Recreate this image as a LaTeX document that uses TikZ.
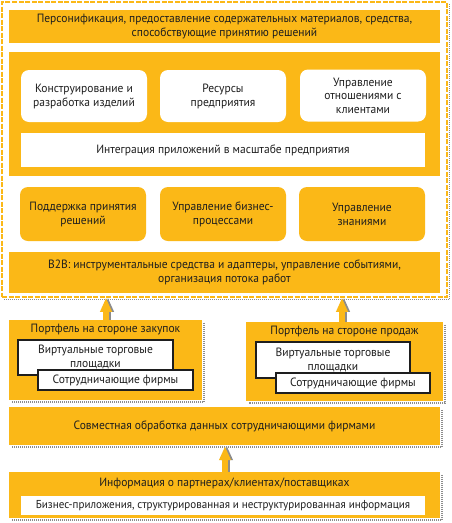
\documentclass[tikz,border=0pt]{standalone}
\usepackage{fontspec}
\setmainfont{PT Sans}[FakeStretch=0.96]
\usetikzlibrary{arrows.meta}
\definecolor{gold}{HTML}{FBB817}
\definecolor{ink}{HTML}{1E1E1E}
\definecolor{sgray}{HTML}{8C8C8C}
\newcommand\shd[1]{\draw[sgray, line width=1.3, dash pattern=on 1pt off 1pt] ([xshift=1.8pt,yshift=-3pt]#1.north east) -- ([xshift=1.8pt,yshift=-1.8pt]#1.south east) -- ([xshift=3pt,yshift=-1.8pt]#1.south west);}
\begin{document}
\begin{tikzpicture}[x=1pt,y=-1pt, font=\fontsize{12}{14}\selectfont, text=ink,
 band/.style={fill=gold, draw=none, minimum width=431, inner sep=0, align=center},
 wbox/.style={fill=white, draw=none, rounded corners=8, minimum width=126, minimum height=52, inner sep=0, align=center},
 ybox/.style={fill=gold, draw=none, rounded corners=8, minimum width=126, minimum height=54, inner sep=0, align=center},
 plain/.style={fill=white, draw=none, inner sep=0, align=center},
 framed/.style={fill=white, draw=ink, line width=1.1, inner sep=0, align=center},
 lbl/.style={inner sep=0, align=center},
 bigarrow/.style={line width=5.5, -{Triangle[width=11,length=14]}},
]
\useasboundingbox[fill=white] (0,0) rectangle (451,523);

% outer dashed frame
\node[draw=gold, line width=1.6, dash pattern=on 5pt off 1.5pt, minimum width=445, minimum height=295, inner sep=0] (frame) at (224.5,149.5) {};
\shd{frame}

% top band
\node[band, minimum height=33] (pers) at (224.5,26.5) {Персонификация, предоставление содержательных материалов, средства,\\способствующие принятию решений};

% middle yellow area
\node[band, minimum height=124] (mid) at (224.5,114) {};
\node[wbox] (konstr) at (84,96) {Конструирование и\\разработка изделий};
\node[wbox] (res) at (223,96) {Ресурсы\\предприятия};
\node[wbox, font=\fontsize{12}{13.5}\selectfont] (crm) at (363,95.5) {Управление\\отношениями с\\клиентами};
\node[plain, minimum width=404, minimum height=34] (integ) at (223,150) {Интеграция приложений в масштабе предприятия};

% yellow rounded boxes
\node[ybox] (dss) at (83,214) {Поддержка принятия\\решений};
\node[ybox] (bpm) at (223,214) {Управление бизнес-\\процессами};
\node[ybox] (km) at (362,214) {Управление\\знаниями};

% B2B band
\node[band, minimum height=41] (b2b) at (224.5,272.5) {B2B: инструментальные средства и адаптеры, управление событиями,\\организация потока работ};

% portfolios
\node[fill=gold, minimum width=193, minimum height=80, inner sep=0] (lp) at (105.5,360) {};
\shd{lp}
\node[lbl] (lpt) at (105.5,330) {Портфель на стороне закупок};
\node[framed, minimum width=155, minimum height=35] (lv) at (95.5,357.5) {Виртуальные торговые\\площадки};
\node[framed, minimum width=155, minimum height=20] (lc) at (115.5,380) {Сотрудничающие фирмы};

\node[fill=gold, minimum width=197, minimum height=79, inner sep=0] (rp) at (344.5,361.5) {};
\shd{rp}
\node[lbl] (rpt) at (344.5,331) {Портфель на стороне продаж};
\node[framed, minimum width=154, minimum height=36] (rv) at (333,360) {Виртуальные торговые\\площадки};
\node[framed, minimum width=154, minimum height=20] (rc) at (353,383) {Сотрудничающие фирмы};

% collaborative band
\node[band, minimum height=38] (collab) at (224.5,426) {Совместная обработка данных сотрудничающими фирмами};
\shd{collab}

% bottom box
\node[band, minimum height=46] (info) at (224.5,495) {};
\shd{info}
\node[lbl] (infot) at (224.5,483) {Информация о партнерах/клиентах/поставщиках};
\node[plain, minimum width=404, minimum height=19, font=\fontsize{11.5}{14}\selectfont] (bizapp) at (223,505.5) {Бизнес-приложения, структурированная и неструктурированная информация};

% arrows
\draw[bigarrow, sgray] ([xshift=2pt]lp.north -| 106,0) -- ([xshift=2pt]frame.south -| 106,0);
\draw[bigarrow, gold] (lp.north -| 106,0) -- (frame.south -| 106,0);
\draw[bigarrow, sgray] ([xshift=2pt]rp.north -| 342,0) -- ([xshift=2pt]frame.south -| 342,0);
\draw[bigarrow, gold] (rp.north -| 342,0) -- (frame.south -| 342,0);
\draw[bigarrow, sgray] ([xshift=2pt]info.north -| 225,0) -- ([xshift=2pt,yshift=-1pt]collab.south -| 225,0);
\draw[bigarrow, gold] (info.north -| 225,0) -- ([yshift=-1pt]collab.south -| 225,0);
\end{tikzpicture}
\end{document}
